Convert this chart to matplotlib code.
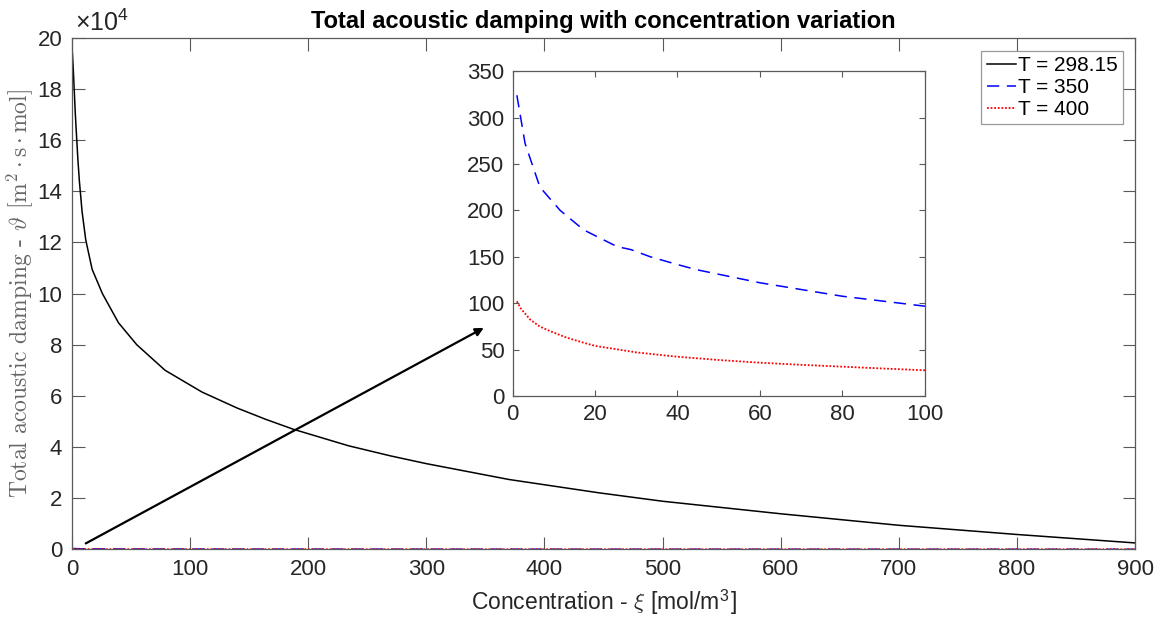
import matplotlib
matplotlib.use("Agg")
import matplotlib.pyplot as plt
from matplotlib.ticker import FuncFormatter

plt.rcParams['font.family'] = ['Liberation Sans', 'DejaVu Sans']
plt.rcParams['mathtext.fontset'] = 'cm'

# Concentration [mol/m^3] and total damping for each temperature
xi_298 = [0.3, 1.0, 1.7, 2.8, 4.0, 5.0, 6.2, 8.5, 11.6, 17, 25.7, 39.3, 54.8, 78.8,
          110, 140, 163.6, 187, 234, 270, 300, 370, 446, 500, 600, 700, 800, 900]
theta_298 = [19.4e4, 18.8e4, 18.1e4, 17.0e4, 16.0e4, 15.2e4, 14.4e4, 13.2e4, 12.1e4,
             10.95e4, 10.0e4, 8.86e4, 8.0e4, 7.0e4, 6.15e4, 5.52e4, 5.09e4, 4.70e4,
             4.05e4, 3.65e4, 3.35e4, 2.73e4, 2.21e4, 1.88e4, 1.39e4, 0.94e4,
             0.58e4, 0.25e4]

xi_350 = [1, 3, 6.6, 11.5, 17.2, 25.3, 28.7, 33.4, 40, 44.7, 60, 80, 100,
          200, 400, 600, 900]
theta_350 = [324, 272, 225, 200, 179, 161, 157.7, 150, 141.6, 136, 122, 107.5, 96.8,
             70, 45, 30, 15]

xi_400 = [1, 2, 4.2, 6.5, 9, 13, 17.2, 20, 30, 40, 50, 60, 70, 80, 90, 100,
          200, 400, 600, 900]
theta_400 = [102, 94, 82.5, 75, 70, 63, 57.4, 54, 47, 42.3, 38.8, 35.9, 33.6, 31.6,
             29.6, 27.7, 20, 13, 9, 5]

legend_labels = ['T = 298.15', 'T = 350', 'T = 400']

# Arrow from the curves near zero up to the zoomed view
arrow_start = (11.6, 0.23e4)
arrow_end = (348.6, 8.66e4)

fig = plt.figure(figsize=(11.64, 6.26), dpi=100)
ax = fig.add_axes([0.0619, 0.1225, 0.9132, 0.817])

spine_col = '0.35'
text_col = '0.15'
tick_fs = 16

ax.plot(xi_298, theta_298, color='black', lw=1.1, label=legend_labels[0])
ax.plot(xi_350, theta_350, color='blue', lw=1.1, ls=(0, (8, 5)), label=legend_labels[1])
ax.plot(xi_400, theta_400, color='red', lw=1.3, ls=(0, (1, 1)), label=legend_labels[2])

ax.set_xlim(0, 900)
ax.set_ylim(0, 20e4)
ax.set_xticks(range(0, 901, 100))
ax.set_yticks([i * 2e4 for i in range(11)])
ax.yaxis.set_major_formatter(FuncFormatter(lambda v, p: f'{v / 1e4:g}'))
ax.text(0.003, 1.004, r'$\mathregular{\times10^4}$', transform=ax.transAxes,
        fontsize=18, color=text_col, ha='left', va='bottom')

ax.tick_params(direction='in', length=9, width=0.8, top=True, right=True,
               labelsize=tick_fs, colors=text_col, color=spine_col, pad=7)
for s in ax.spines.values():
    s.set_color(spine_col)
    s.set_linewidth(0.9)

ax.set_title('Total acoustic damping with concentration variation',
             fontsize=17, fontweight='bold', pad=7)
ax.set_xlabel(r'Concentration - $\xi$ [mol/m$^{\mathregular{3}}$]', fontsize=16.5,
              color=text_col, labelpad=5)
ax.set_ylabel(r'Total acoustic damping - $\vartheta$ '
              r'$[\mathrm{m}^2\cdot\mathrm{s}\cdot\mathrm{mol}]$',
              fontsize=17, color='0.4', labelpad=1.5, fontfamily='cmr10')

leg = ax.legend(loc='upper right', bbox_to_anchor=(0.9885, 0.975), fontsize=15,
                frameon=True, fancybox=False, handlelength=1.4, handletextpad=0.1,
                borderpad=0.25, labelspacing=0.15, borderaxespad=0.0)
leg.get_frame().set_edgecolor('0.5')
leg.get_frame().set_linewidth(0.9)

ax.annotate('', xy=arrow_end, xytext=arrow_start,
            arrowprops=dict(arrowstyle='-|>', color='black', lw=1.6,
                            mutation_scale=12, shrinkA=0, shrinkB=0))

# Zoomed view of the two higher-temperature curves
ins = fig.add_axes([0.4405, 0.3674, 0.3538, 0.519])
ins.plot(xi_350, theta_350, color='blue', lw=1.1, ls=(0, (8, 5)))
ins.plot(xi_400, theta_400, color='red', lw=1.3, ls=(0, (1, 1)))
ins.set_xlim(0, 100)
ins.set_ylim(0, 350)
ins.set_xticks(range(0, 101, 20))
ins.set_yticks(range(0, 351, 50))
ins.tick_params(direction='in', length=4, width=0.8, top=True, right=True,
                labelsize=tick_fs, colors=text_col, color=spine_col, pad=6)
for s in ins.spines.values():
    s.set_color(spine_col)
    s.set_linewidth(0.9)

fig.savefig('out.png', dpi=100)
